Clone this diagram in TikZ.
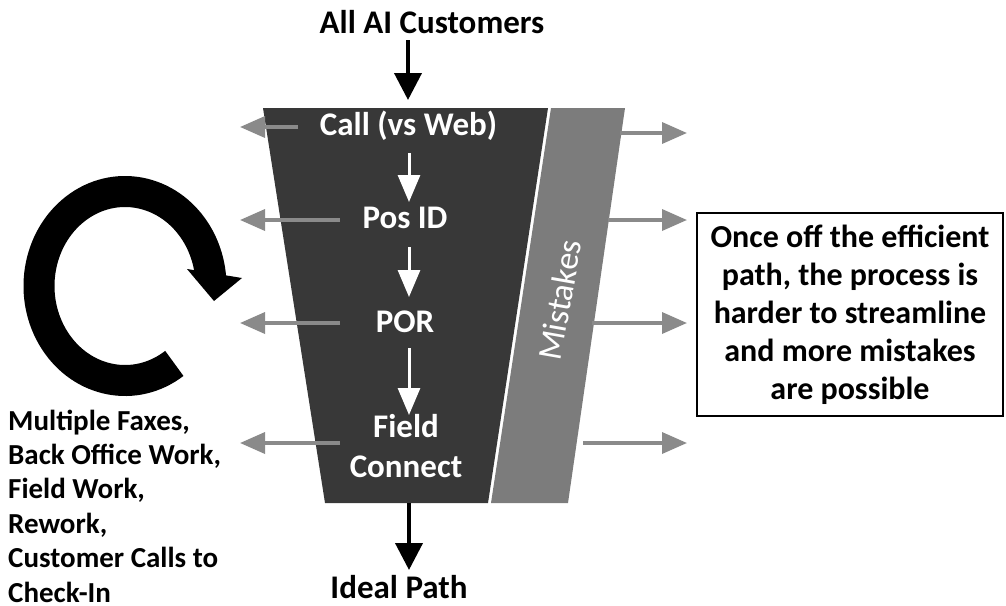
\documentclass[tikz,border=0pt]{standalone}
\usepackage{fontspec}
\setmainfont{Carlito}
\usetikzlibrary{arrows.meta}
\definecolor{funneldark}{HTML}{383838}
\definecolor{funnelmid}{HTML}{7C7C7C}
\definecolor{sidegray}{HTML}{8A8A8A}
\begin{document}
\begin{tikzpicture}[x=1pt,y=-1pt,
  bigtxt/.style={font=\fontsize{33}{40}\selectfont\bfseries, inner sep=0pt},
  steplbl/.style={bigtxt, text=white},
  blackarrow/.style={line width=4pt, -{Triangle[length=27pt,width=27pt]}},
  whitearrow/.style={draw=white, line width=3pt, -{Triangle[length=27pt,width=22pt]}},
  sidearrow/.style={draw=sidegray, line width=3.5pt, -{Triangle[length=25pt,width=21pt]}}]
\useasboundingbox (0,0) rectangle (1006,605);

% funnel: ideal path and the band of mistakes beside it
\fill[funnelmid] (551,108) -- (625,108) -- (568,503) -- (491,503) -- cycle;
\fill[funneldark] (263,108) -- (548,108) -- (488,503) -- (325,503) -- cycle;
\node[rotate=80, text=white, font=\fontsize{34}{40}\selectfont\upshape, inner sep=0pt] (mistakes) at (560,300) {Mistakes};

% entry and exit labels
\node[bigtxt, anchor=base] (allcust) at (432,33) {All AI Customers};
\node[bigtxt, anchor=base] (ideal) at (399,598) {Ideal Path};
\coordinate (ftop) at (408,100);
\coordinate (fbot) at (409,503);
\coordinate (idealtip) at (409,570);
\draw[blackarrow] (allcust.south -| ftop) ++(0,7) -- (ftop);
\draw[blackarrow] (fbot) -- (idealtip);

% process steps
\node[steplbl, anchor=base] (call) at (408.5,135) {Call (vs Web)};
\node[steplbl, anchor=base] (posid) at (405,228) {Pos ID};
\node[steplbl, anchor=base] (por) at (405,332) {POR};
\node[steplbl, anchor=base, align=center] (field) at (406,477) {Field\\Connect};

\coordinate (s1a) at (409,153); \coordinate (s1b) at (409,202);
\coordinate (s2a) at (409,247); \coordinate (s2b) at (409,297);
\coordinate (s3a) at (409,348); \coordinate (s3b) at (409,415);
\draw[whitearrow] (s1a) -- (s1b);
\draw[whitearrow] (s2a) -- (s2b);
\draw[whitearrow] (s3a) -- (s3b);

% leaks to the left
\coordinate (l1a) at (298,127); \coordinate (l1b) at (240,127);
\coordinate (l2a) at (340,220); \coordinate (l2b) at (240,220);
\coordinate (l3a) at (340,323); \coordinate (l3b) at (240,323);
\coordinate (l4a) at (340,443); \coordinate (l4b) at (240,443);
\draw[sidearrow] (l1a) -- (l1b);
\draw[sidearrow] (l2a) -- (l2b);
\draw[sidearrow] (l3a) -- (l3b);
\draw[sidearrow] (l4a) -- (l4b);

% leaks to the right
\coordinate (r1a) at (620,133); \coordinate (r1b) at (687,133);
\coordinate (r2a) at (608,220); \coordinate (r2b) at (687,220);
\coordinate (r3a) at (592,323); \coordinate (r3b) at (687,323);
\coordinate (r4a) at (583,443); \coordinate (r4b) at (687,443);
\draw[sidearrow] (r1a) -- (r1b);
\draw[sidearrow] (r2a) -- (r2b);
\draw[sidearrow] (r3a) -- (r3b);
\draw[sidearrow] (r4a) -- (r4b);

% rework loop
\coordinate (ringc) at (125,286);
\draw[line width=31pt] (ringc) ++(55:86 and 94.5) arc[start angle=55, end angle=355, x radius=86, y radius=94.5];
\fill (187,269) -- (242,278) -- (214,301) -- cycle;

\node[anchor=base west, align=left, inner sep=0pt,
      font=\fontsize{29}{34.4}\selectfont\bfseries] (rework) at (8,602)
  {Multiple Faxes,\\Back Office Work,\\Field Work,\\Rework,\\Customer Calls to\\Check-In};

% remark box
\node[draw=black, line width=2.5pt, minimum width=306pt, minimum height=203pt,
      align=center, inner sep=0pt, font=\fontsize{32}{38}\selectfont\bfseries] (remark) at (850,314.5)
  {Once off the efficient\\path, the process is\\harder to streamline\\and more mistakes\\are possible};
\end{tikzpicture}
\end{document}
